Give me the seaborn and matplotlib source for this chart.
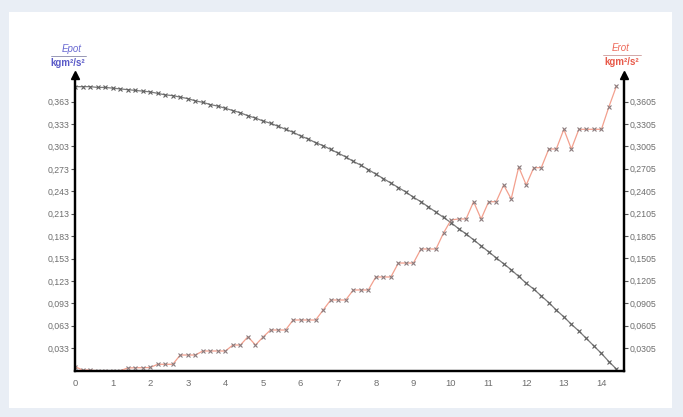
import matplotlib
matplotlib.use("Agg")
import matplotlib.pyplot as plt
import seaborn as sns
import pandas as pd
from matplotlib.patches import Rectangle

# time in s, sampled every 0.2 s
t = [0.0, 0.2, 0.4, 0.6, 0.8, 1.0, 1.2, 1.4, 1.6, 1.8, 2.0, 2.2, 2.4, 2.6, 2.8,
     3.0, 3.2, 3.4, 3.6, 3.8, 4.0, 4.2, 4.4, 4.6, 4.8, 5.0, 5.2, 5.4, 5.6, 5.8,
     6.0, 6.2, 6.4, 6.6, 6.8, 7.0, 7.2, 7.4, 7.6, 7.8, 8.0, 8.2, 8.4, 8.6, 8.8,
     9.0, 9.2, 9.4, 9.6, 9.8, 10.0, 10.2, 10.4, 10.6, 10.8, 11.0, 11.2, 11.4,
     11.6, 11.8, 12.0, 12.2, 12.4, 12.6, 12.8, 13.0, 13.2, 13.4, 13.6, 13.8,
     14.0, 14.2, 14.4]

epot = [0.383, 0.383, 0.383, 0.382, 0.382, 0.381, 0.380, 0.379, 0.378, 0.377,
        0.376, 0.374, 0.372, 0.371, 0.369, 0.367, 0.364, 0.362, 0.359, 0.357,
        0.354, 0.351, 0.348, 0.344, 0.341, 0.337, 0.334, 0.330, 0.326, 0.322,
        0.317, 0.313, 0.308, 0.304, 0.299, 0.294, 0.289, 0.283, 0.278, 0.272,
        0.266, 0.260, 0.254, 0.248, 0.242, 0.235, 0.229, 0.222, 0.215, 0.208,
        0.201, 0.193, 0.186, 0.178, 0.170, 0.162, 0.154, 0.146, 0.138, 0.129,
        0.120, 0.112, 0.103, 0.094, 0.084, 0.075, 0.065, 0.056, 0.046, 0.036,
        0.026, 0.015, 0.005]

erot = [0.0055, 0.0010, 0.0010, 0.0000, 0.0000, 0.0000, 0.0000, 0.0037, 0.0041,
        0.0041, 0.0044, 0.0087, 0.0087, 0.0087, 0.0211, 0.0211, 0.0211, 0.0265,
        0.0265, 0.0265, 0.0265, 0.0345, 0.0345, 0.0456, 0.0345, 0.0452, 0.0546,
        0.0546, 0.0546, 0.0680, 0.0680, 0.0680, 0.0680, 0.0814, 0.0948, 0.0948,
        0.0948, 0.1082, 0.1082, 0.1082, 0.1256, 0.1256, 0.1256, 0.1443, 0.1443,
        0.1443, 0.1631, 0.1631, 0.1631, 0.1845, 0.2019, 0.2033, 0.2033, 0.2264,
        0.2033, 0.2264, 0.2264, 0.2488, 0.2301, 0.2729, 0.2488, 0.2720, 0.2720,
        0.2970, 0.2970, 0.3234, 0.2970, 0.3234, 0.3234, 0.3234, 0.3234, 0.3537,
        0.3814]

x_ticks = list(range(15))
left_ticks = [0.033, 0.063, 0.093, 0.123, 0.153, 0.183, 0.213, 0.243, 0.273,
              0.303, 0.333, 0.363]
left_labels = ["0,033", "0,063", "0,093", "0,123", "0,153", "0,183", "0,213",
               "0,243", "0,273", "0,303", "0,333", "0,363"]
right_ticks = [0.0305, 0.0605, 0.0905, 0.1205, 0.1505, 0.1805, 0.2105, 0.2405,
               0.2705, 0.3005, 0.3305, 0.3605]
right_labels = ["0,0305", "0,0605", "0,0905", "0,1205", "0,1505", "0,1805",
                "0,2105", "0,2405", "0,2705", "0,3005", "0,3305", "0,3605"]

df = pd.DataFrame({"t": t, "epot": epot, "erot": erot})

sns.set_style("white")
plt.rcParams["font.family"] = ["Liberation Sans", "DejaVu Sans"]

fig = plt.figure(figsize=(6.83, 4.17), dpi=100)
fig.patch.set_facecolor("#e9eef5")
# white panel behind the chart
bg = fig.add_axes([0, 0, 1, 1], zorder=-5)
bg.set_axis_off()
bg.add_patch(Rectangle((9 / 683, 9 / 417), 663 / 683, 396 / 417,
                       transform=bg.transAxes, facecolor="white",
                       edgecolor="none"))

ax = fig.add_axes([75 / 683, 1 - 371 / 417, 549 / 683, 296 / 417])
ax.patch.set_alpha(0)
ax2 = ax.twinx()
ax2.patch.set_alpha(0)

sns.lineplot(data=df, x="t", y="epot", ax=ax, color="#7a7a7a", lw=0.9,
             marker="x", markersize=3.2, markeredgewidth=0.8,
             markeredgecolor="#606060")
sns.lineplot(data=df, x="t", y="erot", ax=ax2, color="#f3a08e", lw=0.9,
             marker="x", markersize=3.2, markeredgewidth=0.8,
             markeredgecolor="#8a7c7e")

ax.set_xlim(0, 14.6)
ax.set_ylim(0.0025, 0.3986)
ax2.set_ylim(-0.0003, 0.3961)

ax.set_xticks(x_ticks)
ax.set_xticklabels([str(v) for v in x_ticks])
ax.set_yticks(left_ticks)
ax.set_yticklabels(left_labels)
ax2.set_yticks(right_ticks)
ax2.set_yticklabels(right_labels)
ax.set_xlabel("")
ax.set_ylabel("")
ax2.set_ylabel("")

for a in (ax, ax2):
    a.spines["top"].set_visible(False)
    for s in ("left", "right", "bottom"):
        a.spines[s].set_linewidth(1.6)
        a.spines[s].set_color("black")
    a.tick_params(colors="#6e6e6e", labelsize=6.3, length=3, width=0.8,
                  direction="out", pad=1)
ax.tick_params(axis="x", pad=3, labelsize=6.8)
ax.tick_params(axis="both", color="#555555")
ax2.tick_params(axis="y", color="#555555")

# arrows at the top of both vertical axes
ax.plot([0, 1], [1, 1], transform=ax.transAxes, ls="none", marker="^",
        markersize=6, color="black", clip_on=False)

# axis headings
fig.text(72 / 683, 1 - 49 / 417, "Epot", color="#6a6ad2", fontsize=7,
         style="italic", ha="center", va="center")
fig.text(68 / 683, 1 - 63 / 417, "kgm²/s²", color="#5a5ac8", fontsize=7,
         weight="bold", ha="center", va="center")
fig.add_artist(plt.Line2D([51 / 683, 86 / 683], [1 - 56 / 417, 1 - 56 / 417],
                          color="#8888aa", lw=0.6))
fig.text(621 / 683, 1 - 48 / 417, "Erot", color="#ee6a5a", fontsize=7,
         style="italic", ha="center", va="center")
fig.text(622 / 683, 1 - 62 / 417, "kgm²/s²", color="#e85a4a", fontsize=7,
         weight="bold", ha="center", va="center")
fig.add_artist(plt.Line2D([603 / 683, 641 / 683], [1 - 55 / 417, 1 - 55 / 417],
                          color="#cc9999", lw=0.6))

fig.savefig("out.png", dpi=100, facecolor=fig.get_facecolor())
